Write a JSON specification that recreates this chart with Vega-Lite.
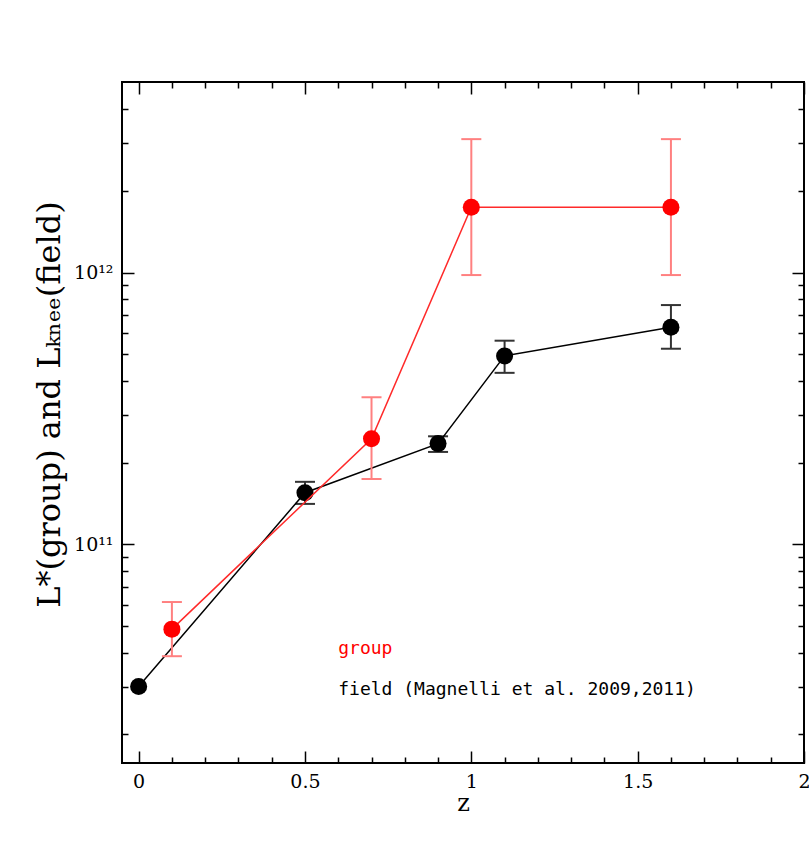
{
  "$schema": "https://vega.github.io/schema/vega-lite/v6.json",
  "width": 682,
  "height": 681,
  "autosize": {"type": "none"},
  "padding": {"left": 122, "top": 82, "right": 5, "bottom": 102},
  "background": "white",
  "config": {
    "view": {"stroke": "black", "strokeWidth": 2},
    "axis": {"grid": false, "domain": false, "tickColor": "black", "tickWidth": 1.5, "labelColor": "black", "titleColor": "black", "labelOverlap": false, "labelFlush": false}
  },
  "data": {
    "values": [
      {"series": "field", "z": 0, "v": 3.0e10, "lo": null, "hi": null},
      {"series": "field", "z": 0.5, "v": 1.55e11, "lo": 1.41e11, "hi": 1.70e11},
      {"series": "field", "z": 0.9, "v": 2.35e11, "lo": 2.19e11, "hi": 2.50e11},
      {"series": "field", "z": 1.1, "v": 4.94e11, "lo": 4.28e11, "hi": 5.62e11},
      {"series": "field", "z": 1.6, "v": 6.3e11, "lo": 5.25e11, "hi": 7.6e11},
      {"series": "group", "z": 0.1, "v": 4.88e10, "lo": 3.88e10, "hi": 6.14e10},
      {"series": "group", "z": 0.7, "v": 2.45e11, "lo": 1.74e11, "hi": 3.48e11},
      {"series": "group", "z": 1.0, "v": 1.74e12, "lo": 9.8e11, "hi": 3.1e12},
      {"series": "group", "z": 1.6, "v": 1.74e12, "lo": 9.8e11, "hi": 3.1e12}
    ]
  },
  "resolve": {"axis": {"x": "independent", "y": "independent"}},
  "layer": [
    {
      "transform": [{"filter": "datum.series == 'field' && isValid(datum.lo)"}],
      "mark": {"type": "rule", "color": "#333333", "strokeWidth": 2},
      "encoding": {
        "x": {"field": "z", "type": "quantitative",
          "scale": {"domain": [-0.05, 2], "nice": false, "zero": false},
          "axis": {
            "orient": "bottom",
            "values": [0,0.1,0.2,0.3,0.4,0.5,0.6,0.7,0.8,0.9,1,1.1,1.2,1.3,1.4,1.5,1.6,1.7,1.8,1.9,2],
            "tickSize": {"condition": {"test": "datum.value == 0 || datum.value == 0.5 || datum.value == 1 || datum.value == 1.5 || datum.value == 2", "value": -12}, "value": -6},
            "labelExpr": "(datum.value == 0 || datum.value == 0.5 || datum.value == 1 || datum.value == 1.5 || datum.value == 2) ? '' + datum.value : ''",
            "labelFont": "DejaVu Serif", "labelFontSize": 19, "labelPadding": 21,
            "title": "z", "titleFont": "DejaVu Serif", "titleFontSize": 24, "titleFontWeight": "normal", "titlePadding": -6
          }},
        "y": {"field": "lo", "type": "quantitative",
          "scale": {"type": "log", "domain": [1.57e10, 5.03e12], "nice": false},
          "axis": {
            "orient": "left",
            "values": [2e10,3e10,4e10,5e10,6e10,7e10,8e10,9e10,1e11,2e11,3e11,4e11,5e11,6e11,7e11,8e11,9e11,1e12,2e12,3e12,4e12],
            "tickSize": {"condition": {"test": "datum.value == 1e11 || datum.value == 1e12", "value": -12}, "value": -6},
            "labelExpr": "datum.value == 1e12 ? '10¹²' : (datum.value == 1e11 ? '10¹¹' : '')",
            "labelFont": "DejaVu Serif", "labelFontSize": 19, "labelPadding": 21,
            "title": "L*(group) and Lₖₙₑₑ(field)", "titleFont": "DejaVu Serif", "titleFontSize": 32, "titleFontWeight": "normal", "titlePadding": 7, "titleY": 322
          }},
        "y2": {"field": "hi"}
      }
    },
    {
      "transform": [{"filter": "datum.series == 'field' && isValid(datum.lo)"}, {"fold": ["lo", "hi"], "as": ["end", "ev"]}],
      "mark": {"type": "tick", "orient": "horizontal", "size": 20, "thickness": 2, "color": "#333333", "opacity": 1},
      "encoding": {
        "x": {"field": "z", "type": "quantitative", "axis": {
            "orient": "top",
            "values": [0,0.1,0.2,0.3,0.4,0.5,0.6,0.7,0.8,0.9,1,1.1,1.2,1.3,1.4,1.5,1.6,1.7,1.8,1.9,2],
            "tickSize": {"condition": {"test": "datum.value == 0 || datum.value == 0.5 || datum.value == 1 || datum.value == 1.5 || datum.value == 2", "value": -12}, "value": -6},
            "labels": false, "title": null
          }},
        "y": {"field": "ev", "type": "quantitative", "axis": {
            "orient": "right",
            "values": [2e10,3e10,4e10,5e10,6e10,7e10,8e10,9e10,1e11,2e11,3e11,4e11,5e11,6e11,7e11,8e11,9e11,1e12,2e12,3e12,4e12],
            "tickSize": {"condition": {"test": "datum.value == 1e11 || datum.value == 1e12", "value": -12}, "value": -6},
            "labels": false, "title": null
          }}
      }
    },
    {
      "transform": [{"filter": "datum.series == 'field'"}],
      "mark": {"type": "line", "color": "#000000", "strokeWidth": 1.5},
      "encoding": {
        "x": {"field": "z", "type": "quantitative", "axis": null},
        "y": {"field": "v", "type": "quantitative", "axis": null}
      }
    },
    {
      "transform": [{"filter": "datum.series == 'field'"}],
      "mark": {"type": "point", "filled": true, "size": 290, "color": "#000000", "opacity": 1},
      "encoding": {
        "x": {"field": "z", "type": "quantitative", "axis": null},
        "y": {"field": "v", "type": "quantitative", "axis": null}
      }
    },
    {
      "transform": [{"filter": "datum.series == 'group'"}],
      "mark": {"type": "rule", "color": "#ff8080", "strokeWidth": 2},
      "encoding": {
        "x": {"field": "z", "type": "quantitative", "axis": null},
        "y": {"field": "lo", "type": "quantitative", "axis": null},
        "y2": {"field": "hi"}
      }
    },
    {
      "transform": [{"filter": "datum.series == 'group'"}, {"fold": ["lo", "hi"], "as": ["end", "ev"]}],
      "mark": {"type": "tick", "orient": "horizontal", "size": 20, "thickness": 2, "color": "#ff8080", "opacity": 1},
      "encoding": {
        "x": {"field": "z", "type": "quantitative", "axis": null},
        "y": {"field": "ev", "type": "quantitative", "axis": null}
      }
    },
    {
      "transform": [{"filter": "datum.series == 'group'"}],
      "mark": {"type": "line", "color": "#ff2a2a", "strokeWidth": 1.5},
      "encoding": {
        "x": {"field": "z", "type": "quantitative", "axis": null},
        "y": {"field": "v", "type": "quantitative", "axis": null}
      }
    },
    {
      "transform": [{"filter": "datum.series == 'group'"}],
      "mark": {"type": "point", "filled": true, "size": 290, "color": "#ff0000", "opacity": 1},
      "encoding": {
        "x": {"field": "z", "type": "quantitative", "axis": null},
        "y": {"field": "v", "type": "quantitative", "axis": null}
      }
    },
    {
      "data": {"values": [
        {"label": "group", "series": "group", "z": 0.6, "v": 4.12e10},
        {"label": "field (Magnelli et al. 2009,2011)", "series": "field", "z": 0.6, "v": 2.91e10}
      ]},
      "mark": {"type": "text", "align": "left", "baseline": "middle", "font": "DejaVu Sans Mono", "fontSize": 18},
      "encoding": {
        "x": {"field": "z", "type": "quantitative", "axis": null},
        "y": {"field": "v", "type": "quantitative", "axis": null},
        "text": {"field": "label"},
        "color": {"field": "series", "type": "nominal", "scale": {"domain": ["group", "field"], "range": ["#ff0000", "#000000"]}, "legend": null}
      }
    }
  ]
}
